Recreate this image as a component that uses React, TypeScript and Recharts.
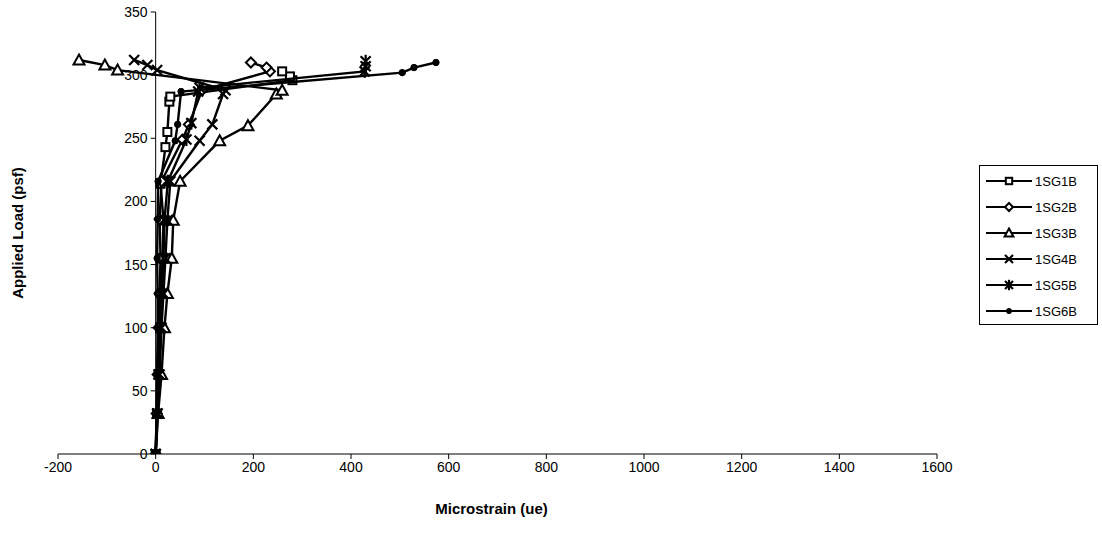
import React from 'react';
import { ScatterChart, Scatter, XAxis, YAxis, ReferenceLine, ReferenceDot, Legend } from 'recharts';

const X_TICKS = [-200, 0, 200, 400, 600, 800, 1000, 1200, 1400, 1600];
const Y_TICKS = [0, 50, 100, 150, 200, 250, 300, 350];

const SG1B_X = [0, 3, 6, 9, 12, 14, 16, 10, 20, 24, 28, 30, 280, 275, 259];
const SG1B_Y = [0, 32, 63, 100, 127, 155, 185, 214, 243, 255, 279, 283, 296, 299, 303];

const SG2B_X = [0, 2, 4, 6, 8, 10, 8, 12, 55, 68, 95, 234, 227, 195];
const SG2B_Y = [0, 32, 63, 100, 127, 155, 186, 216, 249, 261, 288, 303, 306, 310];

const SG3B_X = [0, 5, 12, 18, 24, 33, 36, 50, 131, 189, 247, 259, -78, -104, -157];
const SG3B_Y = [0, 32, 63, 100, 127, 155, 185, 216, 248, 260, 285, 288, 304, 308, 312];

const SG4B_X = [0, 4, 8, 12, 16, 20, 24, 30, 90, 116, 138, 143, 3, -17, -44];
const SG4B_Y = [0, 32, 63, 100, 127, 155, 185, 216, 248, 261, 285, 288, 304, 308, 312];

const SG5B_X = [0, 3, 6, 10, 13, 16, 18, 25, 63, 73, 87, 90, 428, 430, 430];
const SG5B_Y = [0, 32, 63, 100, 127, 155, 185, 216, 249, 262, 287, 290, 303, 307, 311];

const SG6B_X = [0, 2, 3, 4, 4, 3, 4, 5, 40, 45, 52, 505, 529, 574];
const SG6B_Y = [0, 32, 63, 100, 127, 155, 186, 216, 248, 261, 287, 302, 306, 310];

const SERIES_NAMES = ['1SG1B', '1SG2B', '1SG3B', '1SG4B', '1SG5B', '1SG6B'];
const SERIES_MARKERS = ['square', 'diamond', 'triangle', 'x', 'star', 'dot'];
const SERIES_XS = [SG1B_X, SG2B_X, SG3B_X, SG4B_X, SG5B_X, SG6B_X];
const SERIES_YS = [SG1B_Y, SG2B_Y, SG3B_Y, SG4B_Y, SG5B_Y, SG6B_Y];

const FONT = 'Arial, "Liberation Sans", sans-serif';

function Marker({ kind, cx, cy, s = 1 }: { kind: string; cx: number; cy: number; s?: number }) {
  if (cx == null || cy == null || isNaN(cx) || isNaN(cy)) return null;
  switch (kind) {
    case 'square':
      return <rect x={cx - 4 * s} y={cy - 4 * s} width={8 * s} height={8 * s} fill="#fff" stroke="#000" strokeWidth={2} />;
    case 'diamond':
      return (
        <polygon
          points={`${cx},${cy - 5 * s} ${cx + 5 * s},${cy} ${cx},${cy + 5 * s} ${cx - 5 * s},${cy}`}
          fill="#fff"
          stroke="#000"
          strokeWidth={2}
        />
      );
    case 'triangle':
      return (
        <polygon
          points={`${cx},${cy - 5.5 * s} ${cx + 5.5 * s},${cy + 4.5 * s} ${cx - 5.5 * s},${cy + 4.5 * s}`}
          fill="#fff"
          stroke="#000"
          strokeWidth={2}
        />
      );
    case 'x':
      return (
        <g stroke="#000" strokeWidth={2.2}>
          <line x1={cx - 5 * s} y1={cy - 5 * s} x2={cx + 5 * s} y2={cy + 5 * s} />
          <line x1={cx - 5 * s} y1={cy + 5 * s} x2={cx + 5 * s} y2={cy - 5 * s} />
        </g>
      );
    case 'star':
      return (
        <g stroke="#000" strokeWidth={2.2}>
          <line x1={cx - 5 * s} y1={cy - 5 * s} x2={cx + 5 * s} y2={cy + 5 * s} />
          <line x1={cx - 5 * s} y1={cy + 5 * s} x2={cx + 5 * s} y2={cy - 5 * s} />
          <line x1={cx} y1={cy - 6.5 * s} x2={cx} y2={cy + 6.5 * s} />
        </g>
      );
    default:
      return <circle cx={cx} cy={cy} r={3.2 * s} fill="#000" stroke="#000" />;
  }
}

function LegendContent() {
  return (
    <div
      style={{
        border: '1px solid #000',
        background: '#fff',
        boxSizing: 'border-box',
        width: 119,
        height: 160,
        padding: '2px 0',
        fontFamily: FONT,
        fontSize: 13,
        color: '#000',
      }}
    >
      {SERIES_NAMES.map((name, i) => (
        <div key={name} style={{ display: 'flex', alignItems: 'center', height: 26 }}>
          <svg width={50} height={14} style={{ marginLeft: 4 }}>
            <line x1={2} y1={7} x2={48} y2={7} stroke="#000" strokeWidth={2} />
            <Marker kind={SERIES_MARKERS[i]} cx={25} cy={7} s={0.8} />
          </svg>
          <span style={{ marginLeft: 1 }}>{name}</span>
        </div>
      ))}
    </div>
  );
}

export default function App() {
  const series = SERIES_NAMES.map((name, i) => ({
    name,
    kind: SERIES_MARKERS[i],
    data: SERIES_XS[i].map((x, j) => ({ x, y: SERIES_YS[i][j] })),
  }));

  return (
    <div style={{ position: 'absolute', left: 0, top: 0, width: 1102, height: 554, background: '#fff' }}>
      <ScatterChart
        width={1102}
        height={554}
        margin={{ top: 12, right: 165, bottom: 40, left: 0 }}
        style={{ fontFamily: FONT }}
      >
        <XAxis
          type="number"
          dataKey="x"
          domain={[-200, 1600]}
          ticks={X_TICKS}
          allowDataOverflow
          interval={0}
          height={60}
          axisLine={{ stroke: '#000', strokeWidth: 1 }}
          tickLine={{ stroke: '#000' }}
          tickSize={5}
          tickMargin={3}
          tick={{ fill: '#000', fontSize: 14, fontFamily: FONT }}
          label={(props: any) => {
            const vb = props.viewBox || {};
            return (
              <text
                x={vb.x + vb.width / 2 - 6}
                y={vb.y + 54}
                textAnchor="middle"
                dominantBaseline="central"
                fontFamily={FONT}
                fontSize={15}
                fontWeight="bold"
                fill="#000"
              >
                Microstrain (ue)
              </text>
            );
          }}
        />
        <YAxis
          type="number"
          dataKey="y"
          domain={[0, 350]}
          ticks={Y_TICKS}
          allowDataOverflow
          width={58}
          axisLine={false}
          tickLine={false}
          tick={false}
          label={(props: any) => {
            const vb = props.viewBox || {};
            const cx = vb.x + 17;
            const cy = vb.y + vb.height / 2;
            return (
              <text
                x={cx}
                y={cy}
                transform={`rotate(-90, ${cx}, ${cy})`}
                textAnchor="middle"
                dominantBaseline="central"
                fontFamily={FONT}
                fontSize={15}
                fontWeight="bold"
                fill="#000"
              >
                Applied Load (psf)
              </text>
            );
          }}
        />
        <ReferenceLine x={0} stroke="#000" strokeWidth={1} ifOverflow="visible" />
        {Y_TICKS.map((v) => (
          <ReferenceDot
            key={v}
            x={0}
            y={v}
            r={0}
            ifOverflow="visible"
            shape={(p: any) => (
              <g>
                <line x1={p.cx - 5} y1={p.cy} x2={p.cx} y2={p.cy} stroke="#000" strokeWidth={1} />
                <text
                  x={p.cx - 8}
                  y={p.cy}
                  dominantBaseline="central"
                  textAnchor="end"
                  fontFamily={FONT}
                  fontSize={14}
                  fill="#000"
                >
                  {v}
                </text>
              </g>
            )}
          />
        ))}
        {series.map((s) => (
          <Scatter
            key={s.name}
            name={s.name}
            data={s.data}
            isAnimationActive={false}
            line={{ stroke: '#000', strokeWidth: 2.4 }}
            lineType="joint"
            fill="#000"
            shape={(p: any) => <Marker kind={s.kind} cx={p.cx} cy={p.cy} />}
          />
        ))}
        <Legend
          layout="vertical"
          align="center"
          verticalAlign="middle"
          wrapperStyle={{ left: 979, top: 165, width: 119, height: 160 }}
          content={() => <LegendContent />}
        />
      </ScatterChart>
    </div>
  );
}
